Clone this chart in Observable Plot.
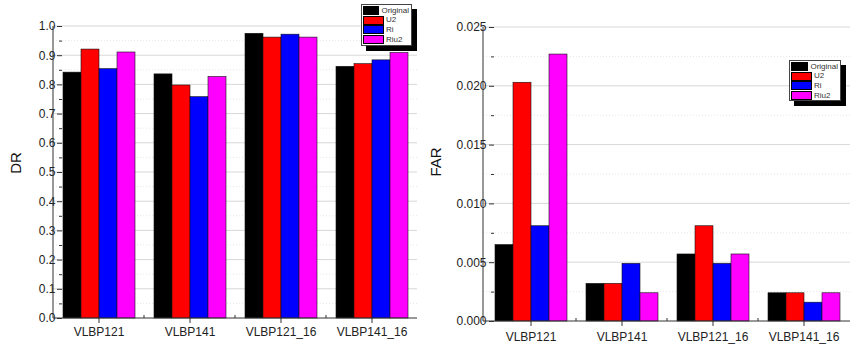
<!DOCTYPE html>
<html>
<head>
<meta charset="utf-8">
<script src="https://cdn.jsdelivr.net/npm/d3@7"></script>
<script src="https://cdn.jsdelivr.net/npm/@observablehq/plot@0.6"></script>
<style>
  html, body { margin: 0; padding: 0; background: #fff; }
  #root { position: relative; width: 851px; height: 347px; overflow: hidden; font-family: "Liberation Sans", Arial, sans-serif; }
  .panel { position: absolute; top: 0; }
  .ytitle { position: absolute; font-size: 15px; color: #111; transform: translate(-50%, -50%) rotate(-90deg); white-space: nowrap; }
  .legend { position: absolute; background: #fff; border: 1px solid #444; box-shadow: 5px 5px 0 #000; padding: 1px 2px 1px 1px; box-sizing: border-box; }
  .legend .row { display: flex; align-items: center; height: 9.6px; }
  .legend .sw { width: 19px; height: 7px; border: 0.6px solid #000; margin-right: 2px; }
  .legend .lb { font-size: 8px; color: #333; line-height: 8px; }
</style>
</head>
<body>
<div id="root"></div>
<script>
// ---- data ----
const groups = ["VLBP121", "VLBP141", "VLBP121_16", "VLBP141_16"];
const series = ["Original", "U2", "Ri", "Riu2"];
const colors = ["#000000", "#ff0000", "#0000ff", "#ff00ff"];

const drOriginal = [0.842, 0.836, 0.975, 0.862];
const drU2       = [0.921, 0.798, 0.962, 0.871];
const drRi       = [0.854, 0.758, 0.972, 0.884];
const drRiu2     = [0.911, 0.827, 0.962, 0.909];

const farOriginal = [0.0065, 0.0032, 0.0057, 0.0024];
const farU2       = [0.0203, 0.0032, 0.0081, 0.0024];
const farRi       = [0.0081, 0.0049, 0.0049, 0.0016];
const farRiu2     = [0.0227, 0.0024, 0.0057, 0.0024];

const drTicks = [0, 0.1, 0.2, 0.3, 0.4, 0.5, 0.6, 0.7, 0.8, 0.9, 1.0];
const drMinor = [0.05, 0.15, 0.25, 0.35, 0.45, 0.55, 0.65, 0.75, 0.85, 0.95];
const farTicks = [0, 0.005, 0.010, 0.015, 0.020, 0.025];
const farMinor = [0.0025, 0.0075, 0.0125, 0.0175, 0.0225];

function toRows(arrs) {
  const rows = [];
  groups.forEach((g, i) => series.forEach((s, j) => rows.push({group: g, series: s, value: arrs[j][i]})));
  return rows;
}
const drRows = toRows([drOriginal, drU2, drRi, drRiu2]);
const farRows = toRows([farOriginal, farU2, farRi, farRiu2]);

function makeChart({rows, width, height, mt, mr, mb, ml, domain, ticks, minor, fmt, tickPad, fxPad}) {
  const chart = Plot.plot({
    width, height,
    marginTop: mt, marginRight: mr, marginBottom: mb, marginLeft: ml,
    style: {fontFamily: '"Liberation Sans", Arial, sans-serif', fontSize: "12px", color: "#222", background: "transparent", overflow: "visible"},
    fx: {domain: groups, paddingInner: 0.2, paddingOuter: 0.1, label: null},
    x: {domain: series, padding: 0, axis: null},
    y: {domain, label: null},
    color: {domain: series, range: colors},
    marks: [
      Plot.axisY({ticks, tickSize: 5, tickPadding: tickPad, tickFormat: fmt, label: null, stroke: "#333"}),
      Plot.axisY({ticks: minor, tickSize: 3, tickFormat: () => "", label: null, stroke: "#333"}),
      Plot.axisFx({anchor: "bottom", tickSize: 5, tickPadding: fxPad, label: null, stroke: "#333", fontSize: 12}),
      Plot.barY(rows, {fx: "group", x: "series", y: "value", fill: "series", stroke: "#111", strokeWidth: 0.6})
    ]
  });
  // gridlines, axis lines and minor x ticks from Plot's own scales
  const y = chart.scale("y");
  const fx = chart.scale("fx");
  const x0 = ml, x1 = width - mr;
  const svg = d3.select(chart);
  const g = svg.insert("g", "g");
  minor.forEach(v => g.append("line").attr("x1", x0).attr("x2", x1).attr("y1", y.apply(v)).attr("y2", y.apply(v))
    .attr("stroke", "#e6e6e6").attr("stroke-dasharray", "1,2"));
  ticks.slice(1).forEach(v => g.append("line").attr("x1", x0).attr("x2", x1).attr("y1", y.apply(v)).attr("y2", y.apply(v))
    .attr("stroke", "#d8d8d8"));
  const top = svg.append("g").attr("stroke", "#333");
  top.append("line").attr("x1", x0).attr("x2", x0).attr("y1", y.apply(domain[1])).attr("y2", y.apply(0));
  top.append("line").attr("x1", x0).attr("x2", x1).attr("y1", y.apply(0)).attr("y2", y.apply(0));
  const gap = (fx.step - fx.bandwidth) / 2;
  groups.slice(1).forEach(gr => {
    const bx = fx.apply(gr) - gap;
    top.append("line").attr("x1", bx).attr("x2", bx).attr("y1", y.apply(0)).attr("y2", y.apply(0) - 3);
  });
  return chart;
}

function legend(left, top, w, h) {
  const d = document.createElement("div");
  d.className = "legend";
  Object.assign(d.style, {left: left + "px", top: top + "px", width: w + "px", height: h + "px"});
  series.forEach((s, i) => {
    const r = document.createElement("div"); r.className = "row";
    const sw = document.createElement("div"); sw.className = "sw"; sw.style.background = colors[i];
    const lb = document.createElement("div"); lb.className = "lb"; lb.textContent = s;
    r.appendChild(sw); r.appendChild(lb); d.appendChild(r);
  });
  return d;
}

const root = document.getElementById("root");

const left = makeChart({rows: drRows, width: 425, height: 347, mt: 26, mr: 8, mb: 29, ml: 53,
  domain: [0, 1], ticks: drTicks, minor: drMinor, fmt: d3.format(".1f"), tickPad: 2, fxPad: 4});
const lp = document.createElement("div"); lp.className = "panel"; lp.style.left = "0px"; lp.appendChild(left);
root.appendChild(lp);

const right = makeChart({rows: farRows, width: 426, height: 347, mt: 27, mr: 1, mb: 26, ml: 58,
  domain: [0, 0.025], ticks: farTicks, minor: farMinor, fmt: d3.format(".3f"), tickPad: 3, fxPad: 6});
const rp = document.createElement("div"); rp.className = "panel"; rp.style.left = "425px"; rp.appendChild(right);
root.appendChild(rp);

const t1 = document.createElement("div"); t1.className = "ytitle"; t1.textContent = "DR";
Object.assign(t1.style, {left: "15px", top: "163px"});
root.appendChild(t1);
const t2 = document.createElement("div"); t2.className = "ytitle"; t2.textContent = "FAR";
Object.assign(t2.style, {left: "435px", top: "162px"});
root.appendChild(t2);

root.appendChild(legend(361, 4, 51, 42));
root.appendChild(legend(789, 60, 52, 41));
</script>
</body>
</html>
